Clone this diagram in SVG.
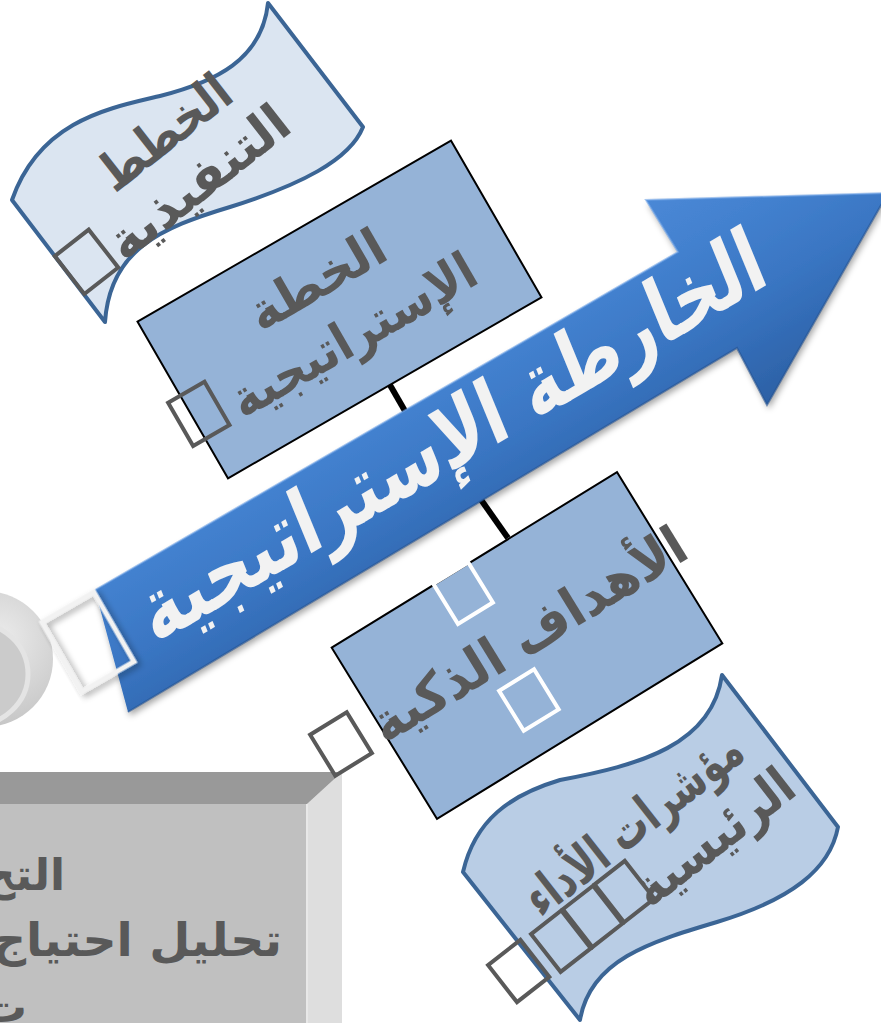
<svg xmlns="http://www.w3.org/2000/svg" width="881" height="1023" viewBox="0 0 881 1023">
<defs>
<style>
.ar{font-family:"DejaVu Sans",sans-serif;font-weight:bold;}
.gt{fill:#595959;}
.box{fill:#95b3d7;stroke:#000;stroke-width:2;}
.wave{stroke:#3b6595;stroke-width:4;stroke-linejoin:round;}
.sq{fill:none;stroke:#595959;stroke-width:4;}
.wsq{fill:none;stroke:#ffffff;stroke-width:4;}
.conn{stroke:#000;stroke-width:6;}
</style>
<linearGradient id="arrowGrad" gradientUnits="userSpaceOnUse" x1="254" y1="431" x2="376" y2="638">
<stop offset="0" stop-color="#4a88d6"/>
<stop offset="0.25" stop-color="#4381cf"/>
<stop offset="0.55" stop-color="#3a76c3"/>
<stop offset="0.75" stop-color="#336cb6"/>
<stop offset="1" stop-color="#2c60a4"/>
</linearGradient>
<radialGradient id="discGrad" cx="0.6" cy="0.35" r="0.8">
<stop offset="0" stop-color="#ececec"/>
<stop offset="1" stop-color="#bdbdbd"/>
</radialGradient>
<filter id="sh" x="-10%" y="-10%" width="130%" height="130%">
<feDropShadow dx="2" dy="4" stdDeviation="3" flood-color="#000" flood-opacity="0.35"/>
</filter>
</defs>

<g id="gray-box">
<polygon points="0,772 342,772 342,1023 0,1023" fill="#c0c0c0"/>
<polygon points="0,772 342,772 307,804 0,804" fill="#999999"/>
<polygon points="342,772 342,1023 307,1023 307,804" fill="#dedede"/>
<line x1="307" y1="804" x2="307" y2="1023" stroke="#e8e8e8" stroke-width="2"/>
<text class="ar gt" x="65" y="890" text-anchor="end" font-size="44">التح</text>
<text class="ar gt" x="282" y="956" text-anchor="end" font-size="46" textLength="290" lengthAdjust="spacingAndGlyphs">تحليل احتياج</text>
<text class="ar gt" x="27" y="1022" text-anchor="end" font-size="44">ت</text>
</g>

<g id="gray-disc">
<ellipse cx="-15" cy="659" rx="68" ry="68" fill="url(#discGrad)"/>
<ellipse cx="-28" cy="674" rx="56" ry="52" fill="#cbcbcb" stroke="#e4e4e4" stroke-width="5"/>
</g>

<g id="connectors">
<line class="conn" x1="390" y1="385" x2="420" y2="437"/>
<line class="conn" x1="465" y1="477" x2="508" y2="538"/>
</g>

<g id="node-execution-plans">
<path class="wave" fill="#dbe5f1" d="M12,200 C40,120 110,108 160,96 C215,82 262,60 268,3 L363,127 C350,160 300,185 230,207 C160,228 110,250 105,322 Z"/>
<g transform="translate(187 163) rotate(-38)">
<text class="ar gt" x="1" y="-20" text-anchor="middle" font-size="52" textLength="154" lengthAdjust="spacingAndGlyphs">الخطط</text>
<text class="ar gt" x="-3" y="40" text-anchor="middle" font-size="52" textLength="216" lengthAdjust="spacingAndGlyphs">التنفيذية</text>
<rect class="sq" x="-161.5" y="-8" width="43" height="48"/>
</g>
</g>

<g id="node-strategic-plan">
<g transform="translate(339.5 309.5) rotate(-30)">
<rect class="box" x="-181" y="-90.5" width="362" height="181"/>
<text class="ar gt" x="-5" y="-19" text-anchor="middle" font-size="52" textLength="150" lengthAdjust="spacingAndGlyphs">الخطة</text>
<text class="ar gt" x="-1" y="47" text-anchor="middle" font-size="52" textLength="275" lengthAdjust="spacingAndGlyphs">الإستراتيجية</text>
<rect class="sq" x="-195" y="-5" width="42" height="50"/>
</g>
</g>

<g id="node-roadmap-arrow">
<polygon points="95,590 678,252 646,200 888,193 767,405 737,348 128,712" fill="url(#arrowGrad)" filter="url(#sh)"/>
<polyline points="128,712 737,348 767,405 888,193" fill="none" stroke="#24528f" stroke-width="2" stroke-opacity="0.6"/>
<polyline points="95,590 678,252 646,200 888,193" fill="none" stroke="#6fa3e6" stroke-width="2" stroke-opacity="0.6"/>
<text class="ar" fill="#f2f2f2" transform="matrix(0.862 -0.508 0.38 0.925 463 464)" text-anchor="middle" font-size="88" textLength="715" lengthAdjust="spacingAndGlyphs">الخارطة الإستراتيجية</text>
<rect x="-30" y="-40" width="60" height="80" transform="translate(88 642) rotate(-30)" fill="none" stroke="#f2f2f2" stroke-width="5" filter="url(#sh)"/>
</g>

<g id="node-smart-goals">
<g transform="translate(527 645.5) rotate(-31.6)">
<rect class="box" x="-167.5" y="-100.5" width="335" height="201"/>
<text class="ar gt" x="7" y="10" text-anchor="middle" font-size="54" textLength="360" lengthAdjust="spacingAndGlyphs">الأهداف الذكية</text>
<rect class="wsq" x="-47.5" y="-101.5" width="41" height="47"/>
<rect class="wsq" x="-47.5" y="24" width="41" height="47"/>
<rect class="sq" x="-231.5" y="-37.6" width="43" height="48"/>
</g>
</g>

<g id="node-kpis">
<path class="wave" fill="#b9cde5" d="M463,872 C475,820 510,795 560,780 C640,765 712,745 722,675 L838,827 C830,870 790,900 717,922 C650,942 590,960 580,1020 Z"/>
<g transform="translate(651 848) rotate(-38)">
<text class="ar gt" x="1" y="-12" text-anchor="middle" font-size="52" textLength="262" lengthAdjust="spacingAndGlyphs">مؤشرات الأداء</text>
<text class="ar gt" x="56" y="48" text-anchor="middle" font-size="52" textLength="189" lengthAdjust="spacingAndGlyphs">الرئيسية</text>
<rect class="sq" x="-147.5" y="-6" width="38.3" height="48"/>
<rect class="sq" x="-107.2" y="-6" width="38.3" height="48"/>
<rect class="sq" x="-66.9" y="-6" width="38.3" height="48"/>
<rect class="sq" x="-200.5" y="-8" width="41" height="47"/>
</g>
</g>
</svg>
